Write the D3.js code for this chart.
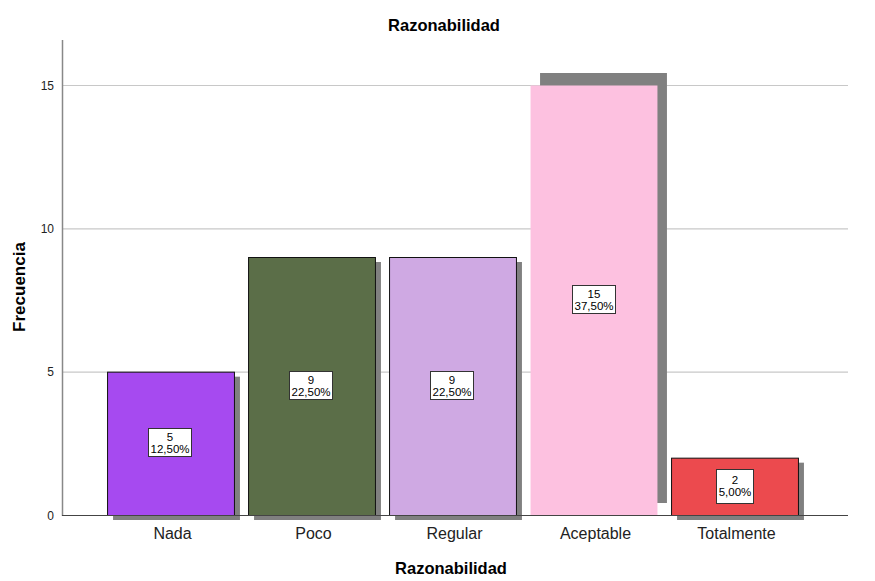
<!DOCTYPE html>
<html>
<head>
<meta charset="utf-8">
<script src="https://cdn.jsdelivr.net/npm/d3@7"></script>
<style>
  body { margin: 0; background: #fff; }
  text { font-family: "Liberation Sans", Arial, sans-serif; }
</style>
</head>
<body>
<svg id="chart" width="875" height="581"></svg>
<script>
// data
var categories = ["Nada", "Poco", "Regular", "Aceptable", "Totalmente"];
var counts = [5, 9, 9, 15, 2];
var percents = ["12,50%", "22,50%", "22,50%", "37,50%", "5,00%"];
var colors = ["#a64af0", "#5b6e48", "#cfa9e3", "#fdc1e0", "#ec4a4e"];
var yTicks = [0, 5, 10, 15];

var svg = d3.select("#chart");
var plotLeft = 62, plotRight = 848, plotTop = 40, plotBottom = 515;

var x = d3.scaleBand().domain(categories).range([100, 805]).paddingInner(0.1).paddingOuter(0.05);
var y = d3.scaleLinear().domain([0, 15]).range([plotBottom, 85]);

// grid lines
svg.append("g").selectAll("line")
    .data(yTicks.filter(function (d) { return d > 0; }))
    .enter().append("line")
    .attr("x1", plotLeft).attr("x2", plotRight)
    .attr("y1", function (d) { return y(d) + 0.5; })
    .attr("y2", function (d) { return y(d) + 0.5; })
    .attr("stroke", "#c8c8c8").attr("stroke-width", 1.2);

// shadows
svg.append("g").selectAll("rect")
    .data(counts)
    .enter().append("rect")
    .attr("x", function (d, i) { return x(categories[i]) + (i === 3 ? 10 : 6); })
    .attr("y", function (d, i) { return y(d) + (i === 3 ? -12 : 5); })
    .attr("width", x.bandwidth())
    .attr("height", function (d) { return plotBottom - y(d); })
    .attr("fill", "#808080");

// bars
svg.append("g").selectAll("rect")
    .data(counts)
    .enter().append("rect")
    .attr("x", function (d, i) { return x(categories[i]) + 0.5; })
    .attr("y", function (d) { return y(d) + 0.5; })
    .attr("width", x.bandwidth())
    .attr("height", function (d) { return plotBottom - y(d); })
    .attr("fill", function (d, i) { return colors[i]; })
    .attr("stroke", function (d, i) { return i === 3 ? "none" : "#111"; })
    .attr("stroke-width", 1);

// axis lines
svg.append("line").attr("x1", plotLeft + 0.5).attr("x2", plotLeft + 0.5)
    .attr("y1", plotTop).attr("y2", plotBottom + 1)
    .attr("stroke", "#888").attr("stroke-width", 1.5);
svg.append("line").attr("x1", plotLeft).attr("x2", plotRight)
    .attr("y1", plotBottom + 0.5).attr("y2", plotBottom + 0.5)
    .attr("stroke", "#444").attr("stroke-width", 1);

// y tick labels
svg.append("g").selectAll("text")
    .data(yTicks)
    .enter().append("text")
    .attr("x", plotLeft - 8)
    .attr("y", function (d) { return y(d) + 4.5; })
    .attr("text-anchor", "end")
    .attr("font-size", 12)
    .attr("fill", "#222")
    .text(function (d) { return d; });

// x category labels
svg.append("g").selectAll("text")
    .data(categories)
    .enter().append("text")
    .attr("x", function (d) { return x(d) + x.bandwidth() / 2 + 2; })
    .attr("y", 539)
    .attr("text-anchor", "middle")
    .attr("font-size", 16)
    .attr("fill", "#222")
    .text(function (d) { return d; });

// value labels
var lab = svg.append("g").selectAll("g")
    .data(counts)
    .enter().append("g")
    .attr("transform", function (d, i) {
        return "translate(" + Math.round(x(categories[i]) + x.bandwidth() / 2) + "," + Math.round(y(d / 2)) + ")";
    });
lab.append("rect")
    .attr("x", function (d, i) { return i === 4 ? -18.5 : -21.5; })
    .attr("y", function (d, i) { return i === 4 ? -16.5 : -14.5; })
    .attr("width", function (d, i) { return i === 4 ? 37 : 43; })
    .attr("height", function (d, i) { return i === 4 ? 34 : 28; })
    .attr("fill", "#fff").attr("stroke", "#333").attr("stroke-width", 1);
lab.append("text")
    .attr("y", -2).attr("text-anchor", "middle").attr("font-size", 11.5)
    .text(function (d) { return d; });
lab.append("text")
    .attr("y", 10).attr("text-anchor", "middle").attr("font-size", 11.5)
    .text(function (d, i) { return percents[i]; });

// titles
svg.append("text").attr("x", 444).attr("y", 31).attr("text-anchor", "middle")
    .attr("font-size", 16.5).attr("font-weight", "bold").text("Razonabilidad");
svg.append("text").attr("x", 451).attr("y", 574).attr("text-anchor", "middle")
    .attr("font-size", 16.5).attr("font-weight", "bold").text("Razonabilidad");
svg.append("text").attr("transform", "translate(25,287) rotate(-90)")
    .attr("text-anchor", "middle")
    .attr("font-size", 17).attr("font-weight", "bold").text("Frecuencia");
</script>
</body>
</html>
